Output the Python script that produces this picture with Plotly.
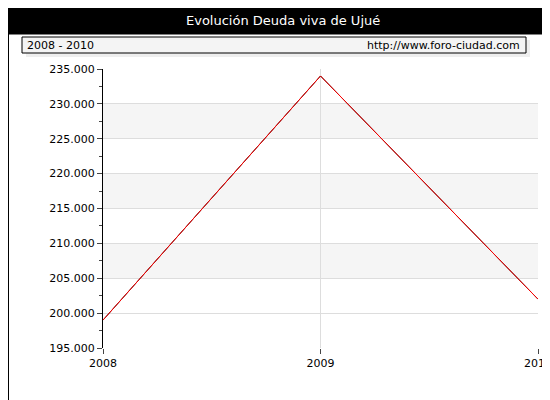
import plotly.graph_objects as go

years = [2008, 2009, 2010]
deuda = [199000, 234000, 202000]
yticks = list(range(195000, 235001, 5000))
ytext = [f"{v:,}".replace(",", ".") for v in yticks]

W, H = 550, 400
px = lambda x: x / W
py = lambda y: 1 - y / H

shapes = []
for lo in [225000, 215000, 205000]:
    shapes.append(dict(type="rect", xref="x domain", x0=0, x1=1, yref="y", y0=lo, y1=lo + 5000,
                       fillcolor="#f5f5f5", line_width=0, layer="below"))
shapes += [
    dict(type="rect", xref="paper", yref="paper", x0=0, x1=1, y0=py(26), y1=1, fillcolor="black", line_width=0),
    dict(type="rect", xref="paper", yref="paper", x0=px(18), x1=px(522), y0=py(49), y1=py(32),
         fillcolor="#eeeeee", line_width=0),
    dict(type="rect", xref="paper", yref="paper", x0=px(14), x1=px(518), y0=py(45), y1=py(29),
         fillcolor="#f4f4f4", line=dict(color="black", width=1)),
    dict(type="rect", xref="paper", yref="paper", x0=px(0.5), x1=px(549.5), y0=py(399.5), y1=py(26),
         line=dict(color="black", width=1), fillcolor="rgba(0,0,0,0)"),
]

fig = go.Figure()
fig.add_trace(go.Scatter(x=years, y=deuda, mode="lines", line=dict(color="black", width=1), hoverinfo="skip"))
fig.add_trace(go.Scatter(x=years, y=deuda, mode="lines", line=dict(color="red", width=1)))

fig.update_layout(
    width=W, height=H, showlegend=False,
    paper_bgcolor="white", plot_bgcolor="white",
    margin=dict(l=0, r=0, t=0, b=0, autoexpand=False),
    font=dict(family="DejaVu Sans", size=11, color="black"),
    shapes=shapes,
    annotations=[
        dict(text="Evolución Deuda viva de Ujué", xref="paper", yref="paper", x=0.5, y=py(13),
             showarrow=False, font=dict(color="white", size=13), xanchor="center", yanchor="middle"),
        dict(text="2008 - 2010", xref="paper", yref="paper", x=px(17), y=py(37),
             showarrow=False, xanchor="left", yanchor="middle"),
        dict(text="http://www.foro-ciudad.com", xref="paper", yref="paper", x=px(514), y=py(37),
             showarrow=False, xanchor="right", yanchor="middle"),
    ],
)
fig.update_xaxes(domain=[px(95), px(530)], range=[2008, 2010], tickvals=years, ticktext=[str(y) for y in years],
                 showgrid=True, gridcolor="#dddddd", zeroline=False, ticks="outside", ticklen=5,
                 showline=False, automargin=False)
fig.update_yaxes(domain=[py(340), py(61)], range=[195000, 235000], tickvals=yticks, ticktext=ytext,
                 showgrid=True, gridcolor="#dddddd", zeroline=False, ticks="outside", ticklen=5,
                 showline=True, linecolor="black", automargin=False,
                 minor=dict(ticks="outside", ticklen=3, dtick=2500))
fig.write_html("out.html")
